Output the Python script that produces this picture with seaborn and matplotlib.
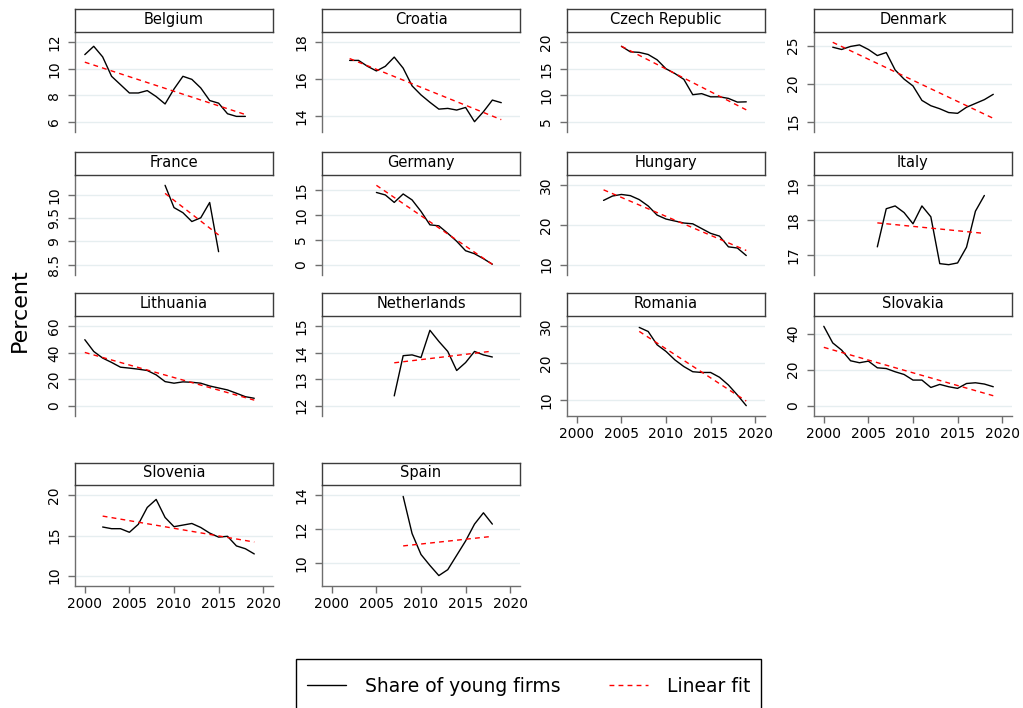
import numpy as np
import pandas as pd
import matplotlib
matplotlib.use("Agg")
import matplotlib.pyplot as plt
import matplotlib.patches as mpatches
from matplotlib.lines import Line2D
from matplotlib.ticker import FixedLocator, FuncFormatter
import seaborn as sns

sns.set_theme(style="white")
plt.rcParams["font.family"] = ["DejaVu Sans"]
plt.rcParams["text.color"] = "black"
plt.rcParams["axes.labelcolor"] = "black"
plt.rcParams["xtick.labelcolor"] = "black"
plt.rcParams["ytick.labelcolor"] = "black"

# ---------------- data ----------------
countries = ["Belgium", "Croatia", "Czech Republic", "Denmark",
             "France", "Germany", "Hungary", "Italy",
             "Lithuania", "Netherlands", "Romania", "Slovakia",
             "Slovenia", "Spain"]
start_years = [2000, 2002, 2005, 2001,
               2009, 2005, 2003, 2006,
               2000, 2007, 2007, 2000,
               2002, 2008]

belgium = [11.07, 11.7, 10.9, 9.43, 8.8, 8.17, 8.17, 8.35, 7.9, 7.34, 8.47,
           9.43, 9.2, 8.55, 7.6, 7.4, 6.6, 6.4, 6.4]
croatia = [17.02, 17.02, 16.7, 16.45, 16.7, 17.2, 16.6, 15.64, 15.15, 14.75,
           14.38, 14.42, 14.33, 14.47, 13.7, 14.24, 14.87, 14.73]
czech = [19.25, 18.2, 18.1, 17.7, 16.7, 15.0, 14.1, 13.0, 10.1, 10.3, 9.7,
         9.7, 9.4, 8.7, 8.75]
denmark = [24.8, 24.5, 24.9, 25.1, 24.5, 23.7, 24.1, 21.8, 20.6, 19.7, 17.8,
           17.1, 16.7, 16.2, 16.1, 16.9, 17.4, 17.9, 18.6]
france = [10.21, 9.73, 9.62, 9.43, 9.51, 9.84, 8.78]
germany = [14.5, 14.0, 12.5, 14.2, 13.0, 10.7, 8.0, 7.8, 6.3, 4.7, 2.8, 2.2,
           1.2, 0.1]
hungary = [26.2, 27.3, 27.7, 27.4, 26.4, 24.8, 22.5, 21.5, 21.0, 20.5, 20.3,
           19.1, 17.9, 17.2, 14.5, 14.2, 12.3]
italy = [17.24, 18.33, 18.41, 18.22, 17.90, 18.41, 18.10, 16.76, 16.73,
         16.78, 17.23, 18.26, 18.71]
lithuania = [49.9, 41.0, 36.0, 32.7, 29.1, 28.4, 27.6, 26.6, 23.3, 18.2, 17.0,
             18.0, 17.7, 17.0, 14.9, 13.4, 11.9, 9.4, 6.8, 5.6]
netherlands = [12.37, 13.89, 13.92, 13.82, 14.85, 14.43, 14.05, 13.33, 13.63,
               14.05, 13.92, 13.84]
romania = [29.7, 28.6, 25.0, 23.2, 20.9, 19.1, 17.7, 17.5, 17.5, 16.2, 14.1,
           11.4, 8.5]
slovakia = [44.0, 34.8, 30.8, 24.9, 23.8, 24.7, 21.0, 20.6, 18.8, 17.3, 14.2,
            14.2, 10.1, 11.8, 10.5, 9.6, 12.3, 12.7, 12.0, 10.5]
slovenia = [16.06, 15.85, 15.85, 15.4, 16.4, 18.5, 19.5, 17.25, 16.1, 16.3,
            16.5, 16.0, 15.3, 14.8, 14.9, 13.7, 13.35, 12.7]
spain = [13.94, 11.74, 10.5, 9.85, 9.25, 9.6, 10.45, 11.3, 12.3, 12.97, 12.3]

series = [belgium, croatia, czech, denmark, france, germany, hungary, italy,
          lithuania, netherlands, romania, slovakia, slovenia, spain]

y_ticks = [[6, 8, 10, 12], [14, 16, 18], [5, 10, 15, 20], [15, 20, 25],
           [8.5, 9, 9.5, 10], [0, 5, 10, 15], [10, 20, 30], [17, 18, 19],
           [0, 20, 40, 60], [12, 13, 14, 15], [10, 20, 30], [0, 20, 40],
           [10, 15, 20], [10, 12, 14]]
x_ticks = [2000, 2005, 2010, 2015, 2020]
xaxis_shown = ["Romania", "Slovakia", "Slovenia", "Spain"]

legend_labels = ["Share of young firms", "Linear fit"]
y_title = "Percent"

# ---------------- layout ----------------
W, H = 1023, 708
fig = plt.figure(figsize=(W / 100, H / 100), dpi=100)

col_x = [75, 322, 567, 814]
pw = 198
row_y = [(9, 32, 132), (152, 175, 275), (293, 316, 416), (463, 485, 586)]

grid_col = "#e6eef0"
axis_col = "#6e6e6e"


def fig_rect(x0, y0, x1, y1):
    return [x0 / W, 1 - y1 / H, (x1 - x0) / W, (y1 - y0) / H]


fmt = FuncFormatter(lambda v, p: f"{v:g}")

for i, (name, start, vals, ticks) in enumerate(zip(countries, start_years, series, y_ticks)):
    r, c = divmod(i, 4)
    tt, at, ab = row_y[r]
    x0 = col_x[c]
    years = np.arange(start, start + len(vals))
    df = pd.DataFrame({"year": years, "value": vals})

    ax = fig.add_axes(fig_rect(x0, at, x0 + pw, ab))
    sns.lineplot(data=df, x="year", y="value", color="black", lw=1.0, ax=ax,
                 zorder=3)
    sns.regplot(data=df, x="year", y="value", scatter=False, ci=None, ax=ax,
                line_kws=dict(color="red", lw=1.0, ls=(0, (3.5, 3)), zorder=4))
    ax.set_xlabel("")
    ax.set_ylabel("")

    # y limits: union of ticks, data and fit, with margin
    slope, icpt = np.polyfit(years, vals, 1)
    fit_ends = [slope * years[0] + icpt, slope * years[-1] + icpt]
    lo = min(min(ticks), min(vals), min(fit_ends))
    hi = max(max(ticks), max(vals), max(fit_ends))
    m = 0.13 * (hi - lo)
    ax.set_ylim(lo - m, hi + m)
    ax.set_xlim(1998.9, 2021.1)

    ax.yaxis.set_major_locator(FixedLocator(ticks))
    ax.yaxis.set_major_formatter(fmt)
    ax.yaxis.grid(True, color=grid_col, lw=1.0)
    ax.xaxis.grid(False)
    ax.set_axisbelow(True)
    ax.tick_params(axis="y", left=True, length=5, width=1, color=axis_col,
                   labelcolor="black", pad=5, labelsize=10, labelrotation=90)
    for lab in ax.get_yticklabels():
        lab.set_va("center")

    for s in ["top", "right"]:
        ax.spines[s].set_visible(False)
    ax.spines["left"].set_color(axis_col)
    ax.spines["left"].set_linewidth(1.0)

    if name in xaxis_shown:
        ax.xaxis.set_major_locator(FixedLocator(x_ticks))
        ax.tick_params(axis="x", bottom=True, length=5, width=1,
                       color=axis_col, labelcolor="black", pad=3,
                       labelsize=10)
        ax.spines["bottom"].set_color(axis_col)
        ax.spines["bottom"].set_linewidth(1.0)
    else:
        ax.spines["bottom"].set_visible(False)
        ax.tick_params(axis="x", bottom=False, labelbottom=False)

    # title strip
    sax = fig.add_axes(fig_rect(x0, tt, x0 + pw, at))
    sax.set_xticks([])
    sax.set_yticks([])
    sax.set_facecolor("white")
    for s in sax.spines.values():
        s.set_color("#3c3c3c")
        s.set_linewidth(1.0)
        s.set_visible(True)
    sax.text(0.5, 0.55, name, ha="center", va="center", fontsize=10.5,
             color="black", transform=sax.transAxes)

fig.text(20 / W, 1 - 310 / H, y_title, rotation=90, ha="center", va="center",
         fontsize=16, color="black")

# legend
handles = [Line2D([], [], color="black", lw=1.0),
           Line2D([], [], color="red", lw=1.0, ls=(0, (3.5, 3)))]
leg = fig.legend(handles, legend_labels, loc="center", ncol=2,
                 bbox_to_anchor=(528.5 / W, 1 - 686 / H), frameon=False,
                 fontsize=13.5, handlelength=2.1, handletextpad=1.0,
                 columnspacing=2.6, borderpad=0)
for t in leg.get_texts():
    t.set_color("black")
fig.patches.append(mpatches.Rectangle((296 / W, 1 - 730 / H), 465 / W, 71 / H,
                                      transform=fig.transFigure, fill=False,
                                      ec="black", lw=1.0))

fig.savefig("out.png", dpi=100)
